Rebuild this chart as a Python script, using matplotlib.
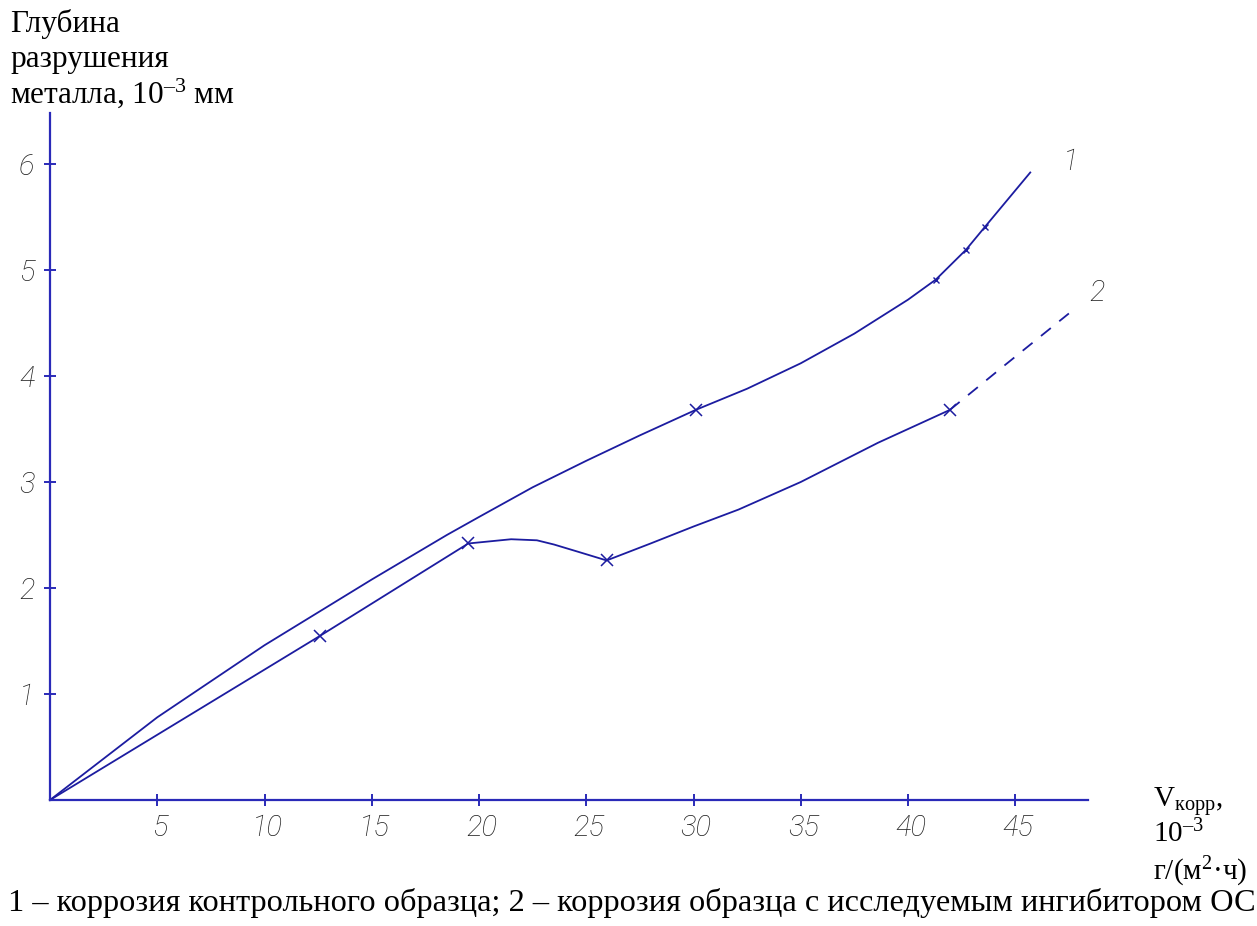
import matplotlib
matplotlib.use("Agg")
import matplotlib.pyplot as plt

# Curve 1: control sample corrosion
x1 = [0, 5, 10, 15, 17, 18.5, 20, 22.5, 25, 27.5, 30.1, 32.5, 35, 37.5, 40, 41.3, 42.7, 43.6, 45.7]
y1 = [0, 0.78, 1.46, 2.08, 2.32, 2.5, 2.67, 2.95, 3.2, 3.44, 3.68, 3.88, 4.12, 4.4, 4.72, 4.91, 5.19, 5.41, 5.92]
x1_marks = [30.1]
y1_marks = [3.68]
x1_ticks = [41.3, 42.7, 43.6]
y1_ticks = [4.91, 5.19, 5.41]

# Curve 2: sample with inhibitor OC
x2 = [0, 12.6, 19.5, 20.5, 21.5, 22.7, 23.5, 24.65, 25.95, 28, 30, 32.1, 35, 38.6, 41.95]
y2 = [0, 1.55, 2.42, 2.44, 2.46, 2.45, 2.41, 2.34, 2.26, 2.42, 2.58, 2.74, 3.0, 3.37, 3.68]
x2_marks = [12.6, 19.5, 25.95, 41.95]
y2_marks = [1.55, 2.42, 2.26, 3.68]
# extrapolated part (dashed)
x2_ext = [41.95, 44.5, 47.5]
y2_ext = [3.68, 4.1, 4.59]

xticks = [5, 10, 15, 20, 25, 30, 35, 40, 45]
yticks = [1, 2, 3, 4, 5, 6]

W, H = 1257, 926
AXIS = "#2a2ab8"
LINE = "#1c1ca0"
TICKTXT = "#222222"
tick_font = dict(family=["Roboto", "DejaVu Sans"], style="italic", weight="light",
                 color=TICKTXT, fontsize=21)
serif = ["Liberation Serif", "DejaVu Serif"]

plt.rcParams["mathtext.fontset"] = "custom"
plt.rcParams["mathtext.rm"] = "Liberation Serif"
plt.rcParams["mathtext.it"] = "Liberation Serif:italic"
plt.rcParams["mathtext.default"] = "regular"

fig = plt.figure(figsize=(W / 100, H / 100), dpi=100)

def fx(px):
    return px / W

def fy(py):
    return 1 - py / H

x0, x1px, y0, y1px = 50, 1088, 800, 113
ax = fig.add_axes([fx(x0), fy(y0), (x1px - x0) / W, (y0 - y1px) / H])
ax.set_xlim(0, (x1px - x0) / 21.45)
ax.set_ylim(0, (y0 - y1px) / 106.0)

for s in ["top", "right"]:
    ax.spines[s].set_visible(False)
for s in ["left", "bottom"]:
    ax.spines[s].set_color(AXIS)
    ax.spines[s].set_linewidth(1.6)

ax.set_xticks(xticks)
ax.set_yticks(yticks)
ax.tick_params(axis="both", direction="inout", length=9, width=1.4, color=AXIS)
ax.set_xticklabels([])
ax.set_yticklabels([])

for v in xticks:
    ax.annotate(str(v), (v, 0), xytext=(2, -10), textcoords="offset points",
                ha="center", va="top", annotation_clip=False, **tick_font)
for v in yticks:
    ax.annotate(str(v), (0, v), xytext=(-11, -2), textcoords="offset points",
                ha="right", va="center", annotation_clip=False, **tick_font)

ax.plot(x1, y1, color=LINE, lw=1.3, clip_on=False)
ax.plot(x1_marks, y1_marks, ls="none", marker="x", ms=9, mew=1.1, color=LINE, clip_on=False)
ax.plot(x1_ticks, y1_ticks, ls="none", marker="x", ms=5, mew=1.0, color=LINE, clip_on=False)

ax.plot(x2, y2, color=LINE, lw=1.3, clip_on=False)
ax.plot(x2_marks, y2_marks, ls="none", marker="x", ms=9, mew=1.1, color=LINE, clip_on=False)
ax.plot(x2_ext, y2_ext, color=LINE, lw=1.3, ls=(0, (7, 6)), clip_on=False)

ax.text(47.6, 6.02, "1", ha="center", va="center", clip_on=False, **tick_font)
ax.text(48.8, 4.78, "2", ha="center", va="center", clip_on=False, **tick_font)

# Axis titles
fs_title = 22.5
fig.text(fx(10), fy(32), "Глубина", family=serif, fontsize=fs_title, va="baseline", ha="left")
fig.text(fx(10), fy(67), "разрушения", family=serif, fontsize=fs_title, va="baseline", ha="left")
fig.text(fx(10), fy(103), "металла, 10$^{\u2013 3}$ мм", family=serif, fontsize=fs_title,
         va="baseline", ha="left")

fig.text(fx(1153), fy(807), "V$_{\\mathrm{корр}}$,", family=serif, fontsize=21,
         va="baseline", ha="left")
fig.text(fx(1153), fy(842), "10$^{\u2013 3}$", family=serif, fontsize=21,
         va="baseline", ha="left")
fig.text(fx(1153), fy(880), "г/(м$^{2}$·ч)", family=serif, fontsize=21,
         va="baseline", ha="left")

fig.text(fx(632), fy(911),
         "1 – коррозия контрольного образца; 2 – коррозия образца с исследуемым ингибитором ОС",
         family=serif, fontsize=23.3, va="baseline", ha="center")

fig.savefig("out.png", dpi=100, facecolor="white")
